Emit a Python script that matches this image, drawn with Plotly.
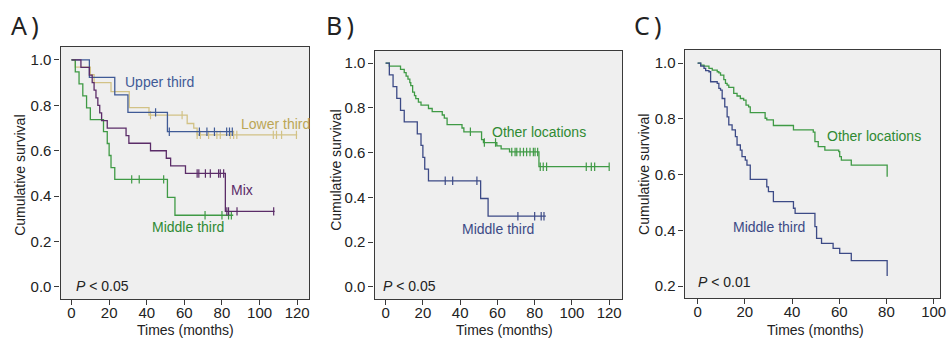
import numpy as np
import plotly.graph_objects as go

# ---------------- data ----------------
# Panel A
upper_t = [9.5, 23, 30, 51]
upper_s = [0.923, 0.846, 0.769, 0.684]
upper_c = [44.7, 52, 68, 72, 76, 82.5, 84, 85.5]
upper_end = 86

lower_t = [2, 10, 12, 21, 30.7, 41.2, 61.5, 65, 66.8]
lower_s = [0.968, 0.935, 0.90, 0.86, 0.79, 0.757, 0.72, 0.70, 0.67]
lower_c = [42, 58.8, 66.8, 68.5, 72.9, 77.3, 79.1, 84.4, 86.2, 87.9, 107.3, 109, 111.7, 119.6]
lower_end = 120

mix_t = [5, 9.5, 11, 12, 13, 14, 15, 16, 19, 29, 30.5, 42, 50.4, 52.7, 60.6, 81.8]
mix_s = [0.967, 0.933, 0.90, 0.867, 0.833, 0.80, 0.767, 0.733, 0.70, 0.667, 0.633, 0.60, 0.567, 0.533, 0.50, 0.333]
mix_c = [66.8, 67.7, 71.2, 73.8, 78.2, 79.1, 80.9, 82.6, 83.5, 88, 107.5]
mix_end = 108

middle_t = [2, 4, 6, 8, 10, 17, 19, 20, 21, 23, 51, 55]
middle_s = [0.947, 0.895, 0.842, 0.789, 0.737, 0.684, 0.632, 0.579, 0.526, 0.474, 0.395, 0.316]
middle_c = [32, 36, 49, 71, 80, 83.5, 85]
middle_end = 86

# Panel B (other locations)
otherB_t = [2, 8, 10, 11, 12, 13, 13.5, 14.5, 15.5, 16.2, 17.6, 19, 23, 25, 30.4, 31.5, 33,
            41, 42, 51.5, 52.5, 59.7, 62, 66.5, 82.3]
otherB_s = [0.986, 0.972, 0.957, 0.942, 0.928, 0.913, 0.899, 0.87, 0.855, 0.841, 0.826, 0.812,
            0.797, 0.783, 0.768, 0.754, 0.725, 0.71, 0.693, 0.658, 0.645, 0.63, 0.617, 0.603, 0.537]
otherB_c = [45.5, 53, 59, 67.7, 69.5, 70.4, 72.2, 74, 75.7, 77.5, 79.3, 80.2, 81.6,
            83, 84.6, 86.4, 107.7, 110.4, 112.2, 120]
otherB_end = 120

# Panel C
otherC_t = [1.3, 2.7, 4.8, 6.2, 8.3, 9.0, 9.7, 11.1, 11.8, 12.5, 13.2, 15.3, 16.7, 18.1, 19.5,
            20.5, 21.6, 22.3, 28.6, 29.3, 32.1, 40.6, 49.0, 49.7, 51.1, 53.9, 59.8, 60.2, 60.9,
            65.1, 80.3]
otherC_s = [0.993, 0.989, 0.981, 0.975, 0.969, 0.965, 0.957, 0.941, 0.927, 0.921, 0.913, 0.891,
            0.882, 0.873, 0.867, 0.849, 0.843, 0.822, 0.802, 0.796, 0.776, 0.760, 0.752, 0.718,
            0.700, 0.688, 0.682, 0.664, 0.652, 0.634, 0.592]

midC_t = [1.3, 2.7, 3.4, 4.8, 5.5, 8.3, 9.0, 9.7, 10.4, 11.5, 12.5, 13.2, 14.6, 16.0, 16.7,
          18.1, 18.8, 20.2, 20.9, 22.3, 29.3, 30.0, 32.1, 40.6, 41.3, 49.7, 50.4, 52.5, 57.4,
          60.2, 65.1, 80.3]
midC_s = [0.989, 0.981, 0.973, 0.969, 0.933, 0.927, 0.909, 0.903, 0.873, 0.843, 0.807, 0.778,
          0.760, 0.736, 0.706, 0.688, 0.664, 0.652, 0.634, 0.583, 0.556, 0.539, 0.503, 0.479,
          0.461, 0.413, 0.371, 0.353, 0.335, 0.317, 0.291, 0.236]

x_ticks_AB = [0, 20, 40, 60, 80, 100, 120]
x_ticks_C = [0, 20, 40, 60, 80, 100]
y_ticks_AB = [0.0, 0.2, 0.4, 0.6, 0.8, 1.0]
y_ticks_C = [0.2, 0.4, 0.6, 0.8, 1.0]

x_title = "Times (months)"
y_title = "Cumulative survival"

# ---------------- helpers ----------------
def km_xy(times, surv, end=None):
    x = [0] + list(times)
    y = [1.0] + list(surv)
    if end is not None and end > x[-1]:
        x.append(end)
        y.append(y[-1])
    return x, y

def cens_y(times, surv, cens):
    t = np.array(times)
    s = np.array(surv)
    out = []
    for c in cens:
        idx = np.where(t <= c)[0]
        out.append(float(s[idx[-1]]) if len(idx) else 1.0)
    return out

BLUE_A = "#3f5a96"
TAN = "#d2c286"
TAN_TXT = "#bba656"
PURPLE = "#5b2c68"
GREEN = "#3f9a45"
GREEN_TXT = "#2f8a33"
BLUE_B = "#3c4a86"

fig = go.Figure()

def add_curve(times, surv, end, cens, color, xa, ya, width=1.3):
    x, y = km_xy(times, surv, end)
    fig.add_trace(go.Scatter(x=x, y=y, mode="lines", line=dict(color=color, width=width, shape="hv"),
                             xaxis=xa, yaxis=ya, showlegend=False, hoverinfo="skip"))
    if cens:
        fig.add_trace(go.Scatter(x=cens, y=cens_y(times, surv, cens), mode="markers",
                                 marker=dict(symbol="line-ns", size=6, line=dict(color=color, width=1.2)),
                                 xaxis=xa, yaxis=ya, showlegend=False, hoverinfo="skip"))

# Panel A
add_curve(lower_t, lower_s, lower_end, lower_c, TAN, "x", "y")
add_curve(upper_t, upper_s, upper_end, upper_c, BLUE_A, "x", "y")
add_curve(middle_t, middle_s, middle_end, middle_c, GREEN, "x", "y")
add_curve(mix_t, mix_s, mix_end, mix_c, PURPLE, "x", "y")
# Panel B
add_curve(otherB_t, otherB_s, otherB_end, otherB_c, GREEN, "x2", "y2")
add_curve(middle_t, middle_s, middle_end, middle_c, BLUE_B, "x2", "y2")
# Panel C
add_curve(otherC_t, otherC_s, None, None, GREEN, "x3", "y3")
add_curve(midC_t, midC_s, None, None, BLUE_B, "x3", "y3")

W, H = 950, 339
def dom_x(a, b):
    return [a / W, b / W]
def dom_y(top, bot):
    return [1 - bot / H, 1 - top / H]

FONT = "Liberation Sans"
axis_common = dict(showline=True, mirror=True, linecolor="#3a3a3a", linewidth=1.3,
                   ticks="outside", ticklen=5, tickcolor="#3a3a3a", tickwidth=1,
                   showgrid=False, zeroline=False, ticklabeloverflow="allow",
                   tickfont=dict(family=FONT, size=15, color="#222"))

def xaxis(dom, rng, ticks, anchor):
    d = dict(axis_common)
    d.update(domain=dom, range=rng, tickvals=ticks, anchor=anchor, ticklabelstandoff=-5)
    return d

def yaxis(dom, rng, ticks, anchor):
    d = dict(axis_common)
    d.update(domain=dom, range=rng, tickvals=ticks, tickformat=".1f", anchor=anchor)
    return d

fig.update_layout(
    width=W, height=H, margin=dict(l=0, r=0, t=0, b=0),
    paper_bgcolor="white", plot_bgcolor="#efefef",
    font=dict(family=FONT),
    xaxis=xaxis(dom_x(61, 311), [-5.8, 126.3], x_ticks_AB, "y"),
    yaxis=yaxis(dom_y(47, 299), [-0.053, 1.057], y_ticks_AB, "x"),
    xaxis2=xaxis(dom_x(377, 626), [-5.9, 126.9], x_ticks_AB, "y2"),
    yaxis2=yaxis(dom_y(51, 299), [-0.054, 1.054], y_ticks_AB, "x2"),
    xaxis3=xaxis(dom_x(689, 946), [-5.5, 102.7], x_ticks_C, "y3"),
    yaxis3=yaxis(dom_y(50, 298), [0.157, 1.047], y_ticks_C, "x3"),
)

def ann(text, x, y, xa, ya, color, size=14, xanchor="left"):
    fig.add_annotation(text=text, x=x, y=y, xref=xa, yref=ya, showarrow=False,
                       xanchor=xanchor, yanchor="middle",
                       font=dict(family=FONT, size=size, color=color))

ann("Upper third", 27.5, 0.903, "x", "y", BLUE_A)
ann("Lower third", 88.8, 0.718, "x", "y", TAN_TXT)
ann("Mix", 84, 0.427, "x", "y", PURPLE)
ann("Middle third", 41.8, 0.264, "x", "y", GREEN_TXT)
ann("<i>P</i> < 0.05", 1.1, 0.004, "x", "y", "#222")

ann("Other locations", 56.2, 0.692, "x2", "y2", GREEN_TXT)
ann("Middle third", 39.8, 0.26, "x2", "y2", BLUE_B)
ann("<i>P</i> < 0.05", -2.5, 0.006, "x2", "y2", "#222")

ann("Other locations", 53.9, 0.739, "x3", "y3", GREEN_TXT)
ann("Middle third", 14.3, 0.413, "x3", "y3", BLUE_B)
ann("<i>P</i> < 0.01", -0.84, 0.215, "x3", "y3", "#222")

# axis titles placed as paper annotations (pixel positions of the reference)
for cx in [187, 508, 821]:
    fig.add_annotation(text=x_title, x=cx / W, y=1 - 330 / H, xref="paper", yref="paper",
                       showarrow=False, xanchor="center", yanchor="middle",
                       font=dict(family=FONT, size=14, color="#222"))
for cx, cy in [(20, 175), (338, 170), (648, 174)]:
    fig.add_annotation(text=y_title, x=cx / W, y=1 - cy / H, xref="paper", yref="paper",
                       showarrow=False, xanchor="center", yanchor="middle", textangle=-90,
                       font=dict(family=FONT, size=14, color="#222"))

for lab, px in [("A\u2009)", 9), ("B\u2009)", 326), ("C\u2009)", 636)]:
    fig.add_annotation(text=lab, x=px / W, y=1 - 25 / H, xref="paper", yref="paper",
                       showarrow=False, xanchor="left", yanchor="middle",
                       font=dict(family="Noto Sans", size=25, color="#222"))

fig.write_html("out.html")
